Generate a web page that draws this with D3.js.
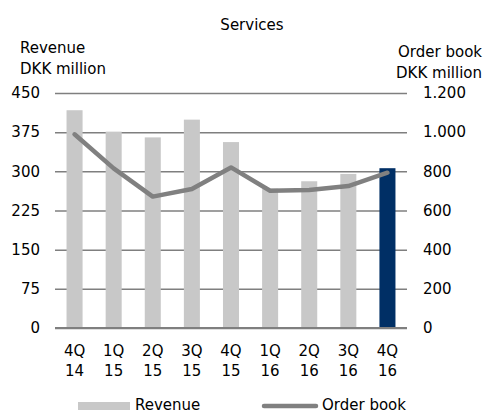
<!DOCTYPE html>
<html>
<head>
<meta charset="utf-8">
<script src="https://cdn.jsdelivr.net/npm/d3@7"></script>
<style>
  body { margin: 0; background: #fff; }
  text { font-family: "DejaVu Sans", Verdana, sans-serif; fill: #000; }
</style>
</head>
<body>
<svg id="chart" width="486" height="412"></svg>
<script>
const quarters = ["4Q", "1Q", "2Q", "3Q", "4Q", "1Q", "2Q", "3Q", "4Q"];
const years = ["14", "15", "15", "15", "15", "16", "16", "16", "16"];
const revenue = [417, 376, 365, 399, 356, 267, 281, 295, 306];
const orderBook = [989, 815, 671, 710, 820, 701, 705, 725, 793];
const leftTicks = [0, 75, 150, 225, 300, 375, 450];
const rightTicks = [0, 200, 400, 600, 800, 1000, 1200];

const GREY = "#c8c8c8";
const NAVY = "#002f65";
const LINE = "#808080";
const GRID = "#7f7f7f";

const svg = d3.select("#chart");
const plotLeft = 55;
const plotRight = 407;
const plotTop = 93;
const plotBottom = 328;

const labels = quarters.map((q, i) => q + " " + years[i] + "#" + i);

const x = d3.scaleBand().domain(labels).range([plotLeft, plotRight]).paddingInner(0.59).paddingOuter(0.295);
const y = d3.scaleLinear().domain([0, 450]).range([plotBottom, plotTop]);
const y2 = d3.scaleLinear().domain([0, 1200]).range([plotBottom, plotTop]);

const fmt = (d) => d3.format(",")(d).replace(/,/g, ".");

// gridlines via axis, behind bars
const gridAxis = svg.append("g")
  .attr("transform", `translate(${plotLeft},0)`)
  .call(d3.axisLeft(y).tickValues(leftTicks).tickSize(-(plotRight - plotLeft)).tickFormat(""));
gridAxis.select(".domain").remove();
gridAxis.selectAll(".tick line").attr("stroke", GRID).attr("stroke-width", 1.5);

// bars
svg.append("g")
  .selectAll("rect")
  .data(revenue)
  .join("rect")
  .attr("x", (d, i) => x(labels[i]))
  .attr("width", x.bandwidth())
  .attr("y", (d) => y(d))
  .attr("height", (d) => y(0) - y(d))
  .attr("fill", (d, i) => (i === revenue.length - 1 ? NAVY : GREY));

// zero baseline on top of bars
svg.append("line")
  .attr("x1", plotLeft)
  .attr("x2", plotRight)
  .attr("y1", y(0))
  .attr("y2", y(0))
  .attr("stroke", GRID)
  .attr("stroke-width", 2);

// left axis labels
svg.append("g")
  .selectAll("text")
  .data(leftTicks)
  .join("text")
  .attr("x", plotLeft - 15)
  .attr("y", (d) => y(d))
  .attr("dy", "0.35em")
  .attr("text-anchor", "end")
  .style("font-size", "15px")
  .text((d) => d);

// right axis labels
svg.append("g")
  .selectAll("text")
  .data(rightTicks)
  .join("text")
  .attr("x", plotRight + 16)
  .attr("y", (d) => y2(d))
  .attr("dy", "0.35em")
  .style("font-size", "15px")
  .text(fmt);

// order book line
const line = d3.line()
  .x((d, i) => x(labels[i]) + x.bandwidth() / 2)
  .y((d) => y2(d));

svg.append("path")
  .datum(orderBook)
  .attr("d", line)
  .attr("fill", "none")
  .attr("stroke", LINE)
  .attr("stroke-width", 4.5)
  .attr("stroke-linecap", "round")
  .attr("stroke-linejoin", "round");

// x labels
const xl = svg.append("g").selectAll("text").data(labels).join("text")
  .attr("text-anchor", "middle")
  .style("font-size", "15px");
xl.append("tspan")
  .attr("x", (d) => x(d) + x.bandwidth() / 2)
  .attr("y", 356)
  .text((d, i) => quarters[i]);
xl.append("tspan")
  .attr("x", (d) => x(d) + x.bandwidth() / 2)
  .attr("y", 376)
  .text((d, i) => years[i]);

// titles
svg.append("text").attr("x", 252).attr("y", 30).attr("text-anchor", "middle")
  .style("font-size", "15px").text("Services");
svg.append("text").attr("x", 20).attr("y", 53).style("font-size", "15px").text("Revenue");
svg.append("text").attr("x", 20).attr("y", 74).style("font-size", "15px").text("DKK million");
svg.append("text").attr("x", 482).attr("y", 57).attr("text-anchor", "end")
  .style("font-size", "15px").text("Order book");
svg.append("text").attr("x", 482).attr("y", 78).attr("text-anchor", "end")
  .style("font-size", "15px").text("DKK million");

// legend
const legend = svg.append("g");
legend.append("rect").attr("x", 78).attr("y", 402).attr("width", 52).attr("height", 8).attr("fill", GREY);
legend.append("text").attr("x", 135).attr("y", 410).style("font-size", "15px").text("Revenue");
legend.append("line").attr("x1", 264).attr("x2", 316).attr("y1", 406).attr("y2", 406)
  .attr("stroke", LINE).attr("stroke-width", 4.5).attr("stroke-linecap", "round");
legend.append("text").attr("x", 322).attr("y", 410).style("font-size", "15px").text("Order book");
</script>
</body>
</html>
